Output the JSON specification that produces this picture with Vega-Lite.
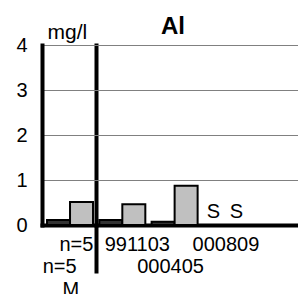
{
  "$schema": "https://vega.github.io/schema/vega-lite/v6.json",
  "width": 256,
  "height": 180,
  "autosize": "none",
  "padding": {"left": 42, "top": 45, "right": 0, "bottom": 69},
  "background": "white",
  "view": {"stroke": null},
  "title": {"text": "Al", "font": "Liberation Sans", "fontSize": 24, "fontWeight": "bold", "color": "black", "anchor": "middle", "frame": "group", "baseline": "alphabetic", "offset": 0, "dy": 37, "dx": 3},
  "data": {"values": [
    {"cat": "M", "s": "a", "v": 0.11},
    {"cat": "M", "s": "b", "v": 0.51},
    {"cat": "991103", "s": "a", "v": 0.11},
    {"cat": "991103", "s": "b", "v": 0.46},
    {"cat": "000405", "s": "a", "v": 0.07},
    {"cat": "000405", "s": "b", "v": 0.87},
    {"cat": "000809", "s": "a", "v": null, "t": "S"},
    {"cat": "000809", "s": "b", "v": null, "t": "S"}
  ]},
  "encoding": {
    "x": {
      "field": "cat", "type": "nominal", "sort": null,
      "scale": {"domain": ["M", "991103", "000405", "000809"], "paddingInner": 0, "paddingOuter": 0.4474, "align": 0.04},
      "axis": {
        "title": null,
        "bandPosition": 0,
        "domainColor": "black", "domainWidth": 4, "domainCap": "square",
        "ticks": true, "tickSize": 48, "tickWidth": 4, "tickColor": "black", "tickCap": "butt",
        "tickOpacity": {"condition": {"test": "datum.value === '991103'", "value": 1}, "value": 0},
        "grid": true, "gridWidth": 4, "gridCap": "square",
        "gridColor": {"condition": {"test": "datum.value === '991103'", "value": "black"}, "value": "transparent"},
        "labelExpr": "datum.value === 'M' ? ['\u200b\u00a0\u00a0\u00a0n=5', 'n=5\u00a0\u00a0\u00a0\u200b', '\u200b\u00a0M'] : datum.value === '000405' ? ['\u200b', '000405'] : datum.value",
        "labelFont": "Liberation Sans", "labelFontSize": 20, "labelColor": "black",
        "labelAngle": 0, "labelAlign": "center", "labelBaseline": "alphabetic", "labelLineHeight": 22.5,
        "labelPadding": -23, "labelOverlap": false, "labelFlush": false, "labelBound": false,
        "labelOffset": {"condition": [
          {"test": "datum.value === 'M'", "value": -2},
          {"test": "datum.value === '991103'", "value": 15},
          {"test": "datum.value === '000405'", "value": -4}
        ], "value": -1}
      }
    },
    "xOffset": {"field": "s", "type": "nominal", "scale": {"domain": ["a", "b"], "paddingInner": 0, "paddingOuter": 0.137}}
  },
  "layer": [
    {
      "mark": {"type": "bar", "stroke": "black", "strokeWidth": 2},
      "encoding": {
        "y": {
          "field": "v", "type": "quantitative",
          "scale": {"domain": [0, 4], "nice": false, "zero": true},
          "axis": {
            "values": [0, 1, 2, 3, 4],
            "grid": true, "gridColor": "#808080", "gridWidth": 1,
            "domainColor": "black", "domainWidth": 4, "domainCap": "square",
            "ticks": false, "tickSize": 0, "labelPadding": 15,
            "labelFont": "Liberation Sans", "labelFontSize": 20, "labelColor": "black",
            "title": "mg/l", "titleAngle": 0, "titleFont": "Liberation Sans", "titleFontSize": 21, "titleFontWeight": "normal", "titleColor": "black",
            "titleAlign": "left", "titleBaseline": "alphabetic", "titleX": 5, "titleY": -7
          }
        },
        "color": {"field": "s", "type": "nominal", "scale": {"domain": ["a", "b"], "range": ["#333333", "#c0c0c0"]}, "legend": null}
      }
    },
    {
      "transform": [{"filter": "datum.t"}],
      "mark": {"type": "text", "font": "Liberation Sans", "fontSize": 20, "color": "black", "baseline": "alphabetic", "dy": -7.5, "dx": -2},
      "encoding": {
        "y": {"datum": 0},
        "text": {"field": "t"}
      }
    }
  ]
}
